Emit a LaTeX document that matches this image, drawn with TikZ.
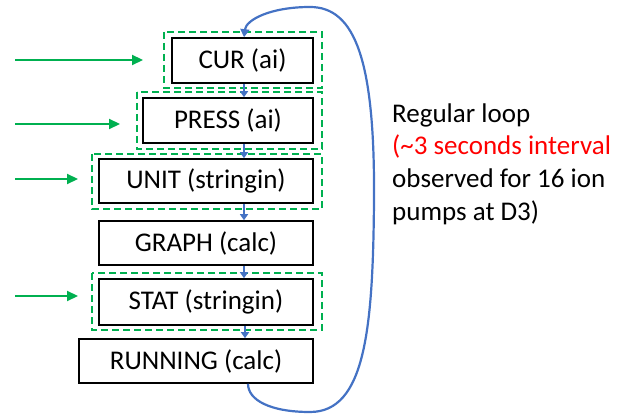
\documentclass[tikz,border=0pt]{standalone}
\usepackage{fontspec}
\setmainfont{Carlito}
\usetikzlibrary{arrows.meta}
\definecolor{ggreen}{HTML}{00B050}
\definecolor{gblue}{HTML}{4472C4}
\definecolor{gred}{HTML}{FF0000}
\begin{document}
\begin{tikzpicture}[x=1pt,y=-1pt,
  rec/.style={draw=black,line width=1.6pt,fill=white,inner sep=0pt,font=\fontsize{27}{30}\selectfont},
  grp/.style={draw=ggreen,line width=2.8pt,dash pattern=on 7pt off 4pt},
  inarrow/.style={draw=ggreen,line width=2.2pt,-{Triangle[length=11pt,width=10pt]}},
  flow/.style={draw=gblue,line width=1.8pt,-{Triangle[length=6pt,width=8pt]}}
]
\useasboundingbox (0,0) rectangle (626,414);
% dashed groups
\draw[grp] (164,32) rectangle (322,88);
\draw[grp] (137,92) rectangle (322,149);
\draw[grp] (92,154) rectangle (322,209);
\draw[grp] (92,273) rectangle (322,330);
% boxes
\node[rec,minimum width=141pt,minimum height=45pt] (cur) at (242.5,60.5) {CUR (ai)};
\node[rec,minimum width=170pt,minimum height=45pt] (press) at (228,120.5) {PRESS (ai)};
\node[rec,minimum width=214pt,minimum height=44pt] (unit) at (206,181) {UNIT (stringin)};
\node[rec,minimum width=214pt,minimum height=44pt] (graph) at (206,243) {GRAPH (calc)};
\node[rec,minimum width=214pt,minimum height=46pt] (stat) at (206,302) {STAT (stringin)};
\node[rec,minimum width=234pt,minimum height=44pt] (running) at (196,361) {RUNNING (calc)};
% input coordinates
\coordinate (i1) at (15,60);
\coordinate (i2) at (15,124);
\coordinate (i3) at (15,179);
\coordinate (i4) at (15,296);
\coordinate (t1) at (143,60);
\coordinate (t2) at (120,124);
\coordinate (t3) at (78,179);
\coordinate (t4) at (78,296);
\draw[inarrow] (i1) -- (t1);
\draw[inarrow] (i2) -- (t2);
\draw[inarrow] (i3) -- (t3);
\draw[inarrow] (i4) -- (t4);
% flow arrows
\draw[flow] (cur.south -| 244,0) -- (press.north -| 244,0);
\draw[flow] (press.south -| 244,0) -- (unit.north -| 244,0);
\draw[flow] (unit.south -| 244,0) -- (graph.north -| 244,0);
\draw[flow] (graph.south -| 244,0) -- (stat.north -| 244,0);
\draw[flow] (stat.south -| 245,0) -- (running.north -| 245,0);
% loop
\draw[draw=gblue,line width=2.2pt,-{Triangle[length=8pt,width=9pt]}]
  (running.south -| 248,0) .. controls (248,400) and (270,412) .. (310,412)
  .. controls (365,412) and (373,330) .. (374,200)
  .. controls (375,60) and (355,7) .. (310,7)
  .. controls (270,7) and (246,20) .. (cur.north -| 244,0);
% label
\node[anchor=west,align=left,inner sep=0pt,font=\fontsize{27}{32.7}\selectfont] (lbl) at (392,164)
  {Regular loop\\\textcolor{gred}{(\textasciitilde 3 seconds interval}\\observed for 16 ion\\pumps at D3)};
\end{tikzpicture}
\end{document}
